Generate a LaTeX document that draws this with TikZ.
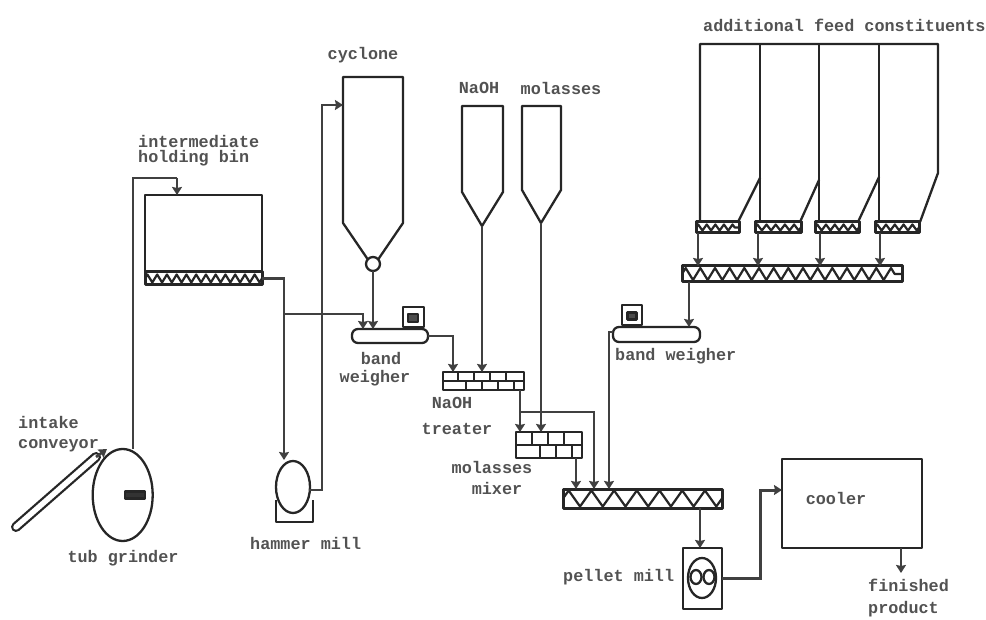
\documentclass[tikz,border=0pt]{standalone}
\usepackage{fontspec}
\setmonofont{Liberation Mono}
\usetikzlibrary{arrows.meta,shapes.geometric,decorations.pathmorphing}

\tikzset{
	line/.style={draw=black!85,line width=2.3,line join=round},
	pipe/.style={draw=black!75,line width=2.6},
	feed/.style={pipe,-{Stealth[length=8,width=10,inset=1]}},
	box/.style={line,rectangle,inner sep=0,outer sep=0,fill=white},
	oval/.style={line,ellipse,inner sep=0,outer sep=0,fill=white},
	screw/.style={box,line width=3},
	twist/.style 2 args={line,line width=2.2,decorate,decoration={zigzag,segment length=#1,amplitude=#2}},
	lbl/.style={inner sep=0,text=black!68,font=\ttfamily\bfseries\fontsize{16.8}{18}\selectfont},
}
% w h at x y
\newcommand{\eqbox}[6][box]{\node[#1,minimum width=#3,minimum height=#4] (#2) at (#5,#6) {};}

\begin{document}
\begin{tikzpicture}[x=1pt,y=-1pt]
	\useasboundingbox (0,0) rectangle (986,620);

	% bins
	\draw[line] (145,195) rectangle (262,272);
	\draw[line] (343,77)--(403,77)--(403,223)--(373,267)--(343,223)--cycle;
	\draw[line] (462,106)--(503,106)--(503,192)--(482,226)--(462,192)--cycle;
	\draw[line] (522,106)--(561,106)--(561,190)--(541,223)--(522,190)--cycle;
	\draw[line] (700,222)--(700,44)--(938,44)--(938,173)--(920,222);
	\foreach \xa/\xb/\ya in {760/738/178,819/800/180,879/858/177}{
		\draw[line] (\xa,44)--(\xa,222);
		\draw[line] (\xa,\ya)--(\xb,222);
	}
	\node[oval,minimum width=14,minimum height=14] (valve) at (373,264) {};

	% screw conveyors
	\eqbox[screw]{binscrew}{117}{13}{203.5}{278.5}
	\eqbox[screw]{addscrewa}{43}{11}{717.5}{227.5}
	\eqbox[screw]{addscrewb}{46}{11}{778}{227.5}
	\eqbox[screw]{addscrewc}{44}{11}{837}{227.5}
	\eqbox[screw]{addscrewd}{44}{11}{897}{227.5}
	\eqbox[screw]{addscrew}{220}{16}{792}{274}
	\eqbox[screw]{mainscrew}{159}{19}{642.5}{498.5}
	\foreach \sname/\slen/\samp in {binscrew/9.75/4,addscrewa/8.6/3,addscrewb/9.2/3,addscrewc/8.8/3,addscrewd/8.8/3,addscrew/14.667/6,mainscrew/22.714/8}{
		\draw[twist={\slen}{\samp}] (\sname.west)--(\sname.east);
	}

	% brick troughs
	\eqbox{treater}{81}{18}{483.5}{381}
	\draw[line,line width=1.6] (treater.west)--(treater.east);
	\foreach \xa in {458,474,490,506}{
		\draw[line,line width=1.2] (\xa,372)--(\xa,381);
		\draw[line,line width=1.2] (\xa+8,381)--(\xa+8,390);
	}
	\eqbox{mixer}{66}{26}{549}{445}
	\draw[line,line width=1.6] (mixer.west)--(mixer.east);
	\foreach \xa in {532,548,564}{
		\draw[line,line width=1.2] (\xa,432)--(\xa,445);
		\draw[line,line width=1.2] (\xa+8,445)--(\xa+8,458);
	}

	% band weighers
	\node[box,rounded corners=6,minimum width=76,minimum height=14] (bandone) at (390,336) {};
	\eqbox{scaleone}{21}{20}{413.5}{317}
	\eqbox[box,fill=black!70]{dialone}{10}{8}{413}{318}
	\node[box,rounded corners=6,minimum width=87,minimum height=15] (bandtwo) at (656.5,334.5) {};
	\eqbox{scaletwo}{20}{20}{632}{315}
	\eqbox[box,fill=black!70]{dialtwo}{9}{7}{632}{316}

	% machines
	\draw[line] (276,500)--(276,522)--(313,522)--(313,500);
	\node[oval,minimum width=34,minimum height=52] (hammer) at (293,487) {};
	\node[oval,minimum width=60,minimum height=92] (grinder) at (122.7,495) {};
	\eqbox[box,fill=black!80]{grindbar}{20}{7}{135}{495}
	\eqbox{pellet}{39}{61}{702.5}{578.5}
	\node[oval,minimum width=28,minimum height=40] (die) at (702,578) {};
	\node[oval,minimum width=11,minimum height=14] (rolla) at (696,577) {};
	\node[oval,minimum width=11,minimum height=14] (rollb) at (709,577) {};
	\eqbox{cooler}{140}{89}{852}{503.5}

	% intake conveyor
	\coordinate (convlow) at (16,527);
	\coordinate (convup) at (96,457);
	\coordinate (convin) at (107,449);
	\draw[draw=black!85,line width=10,line cap=round] (convlow)--(convup);
	\draw[draw=white,line width=5.5,line cap=round] (convlow)--(convup);
	\draw[feed] (convup)--(convin);

	% grinder to bin, bin to mill, mill to cyclone
	\coordinate (grindout) at (133,449);
	\coordinate (binin) at (177,195);
	\coordinate (binbend) at (133,178);
	\coordinate (binturn) at (177,178);
	\draw[pipe] (grindout)--(binbend)--(binturn);
	\draw[feed] (binturn)--(binin);
	\coordinate (millin) at (284,460);
	\coordinate (branch) at (284,314);
	\draw[feed] (binscrew.east) -| (branch) -- (millin);
	\coordinate (millout) at (309,490);
	\coordinate (cycturn) at (322,105);
	\coordinate (cycin) at (343,105);
	\coordinate (millup) at (322,490);
	\draw[feed] (millout)--(millup)--(cycturn)--(cycin);

	% into first weigher
	\coordinate (bandina) at (363,329);
	\coordinate (bandinb) at (373,329);
	\draw[feed] (branch) -| (bandina);
	\draw[feed] (valve.south)--(bandinb);

	% weigher to treater, treater to mixer
	\coordinate (treatin) at (453,372);
	\draw[feed] (bandone.east) -| (treatin);
	\coordinate (naohtip) at (482,226);
	\coordinate (naohin) at (482,372);
	\draw[feed] (naohtip)--(naohin);
	\coordinate (treatout) at (520,390);
	\coordinate (mixina) at (520,432);
	\coordinate (molassestip) at (541,223);
	\coordinate (mixinb) at (541,432);
	\coordinate (split) at (520,412);
	\coordinate (splitturn) at (594,412);
	\draw[feed] (treatout)--(mixina);
	\draw[feed] (molassestip)--(mixinb);

	% into main screw
	\coordinate (mixerout) at (576,458);
	\coordinate (mainina) at (576,489);
	\coordinate (maininb) at (594,489);
	\coordinate (maininc) at (609,489);
	\draw[feed] (split)--(splitturn)--(maininb);
	\draw[feed] (mixerout)--(mainina);
	\coordinate (bandtwoout) at (613,332);
	\coordinate (bandtwoturn) at (609,332);
	\draw[feed] (bandtwoout)--(bandtwoturn)--(maininc);

	% additional feed
	\foreach \sname/\xa in {addscrewa/698,addscrewb/758,addscrewc/820,addscrewd/880}{
		\coordinate (\sname out) at (\xa,233);
		\coordinate (\sname in) at (\xa,266);
		\draw[feed] (\sname out)--(\sname in);
	}
	\coordinate (addout) at (689,282);
	\coordinate (bandtwoin) at (689,327);
	\draw[feed] (addout)--(bandtwoin);

	% pellet mill, cooler
	\coordinate (mainout) at (700,508);
	\coordinate (pelletin) at (700,548);
	\draw[feed] (mainout)--(pelletin);
	\coordinate (coolturn) at (760,490);
	\coordinate (coolin) at (782,490);
	\coordinate (pelletturn) at (760,578.5);
	\draw[feed,line width=3] (pellet.east)--(pelletturn)--(coolturn)--(coolin);
	\coordinate (coolout) at (901,548);
	\coordinate (finish) at (901,573);
	\draw[feed] (coolout)--(finish);

	% labels
	\node[lbl,anchor=west] (lbadd) at (703,25) {additional feed constituents};
	\node[lbl] (lbcyclone) at (363,55) {cyclone};
	\node[lbl] (lbnaoh) at (479,88) {NaOH};
	\node[lbl] (lbmolasses) at (561,88) {molasses};
	\node[lbl,anchor=west] (lbinter) at (138,141) {intermediate};
	\node[lbl,anchor=west] (lbhold) at (138,158) {holding bin};
	\node[lbl,anchor=west] (lbintake) at (18,422) {intake};
	\node[lbl,anchor=west] (lbconv) at (18,446) {conveyor};
	\node[lbl] (lbtub) at (123,558) {tub grinder};
	\node[lbl,anchor=west] (lbhammer) at (250,543) {hammer mill};
	\node[lbl] (lbband) at (381,358) {band};
	\node[lbl] (lbweigh) at (375,378) {weigher};
	\node[lbl] (lbtreatn) at (452,403) {NaOH};
	\node[lbl] (lbtreat) at (457,429) {treater};
	\node[lbl] (lbmixm) at (492,467) {molasses};
	\node[lbl] (lbmix) at (497,488) {mixer};
	\node[lbl,anchor=west] (lbbandtwo) at (615,356) {band weigher};
	\node[lbl,anchor=west] (lbpellet) at (563,577) {pellet mill};
	\node[lbl] (lbcooler) at (836,498) {cooler};
	\node[lbl,anchor=west] (lbfin) at (868,585) {finished};
	\node[lbl,anchor=west] (lbprod) at (868,609) {product};
\end{tikzpicture}
\end{document}
